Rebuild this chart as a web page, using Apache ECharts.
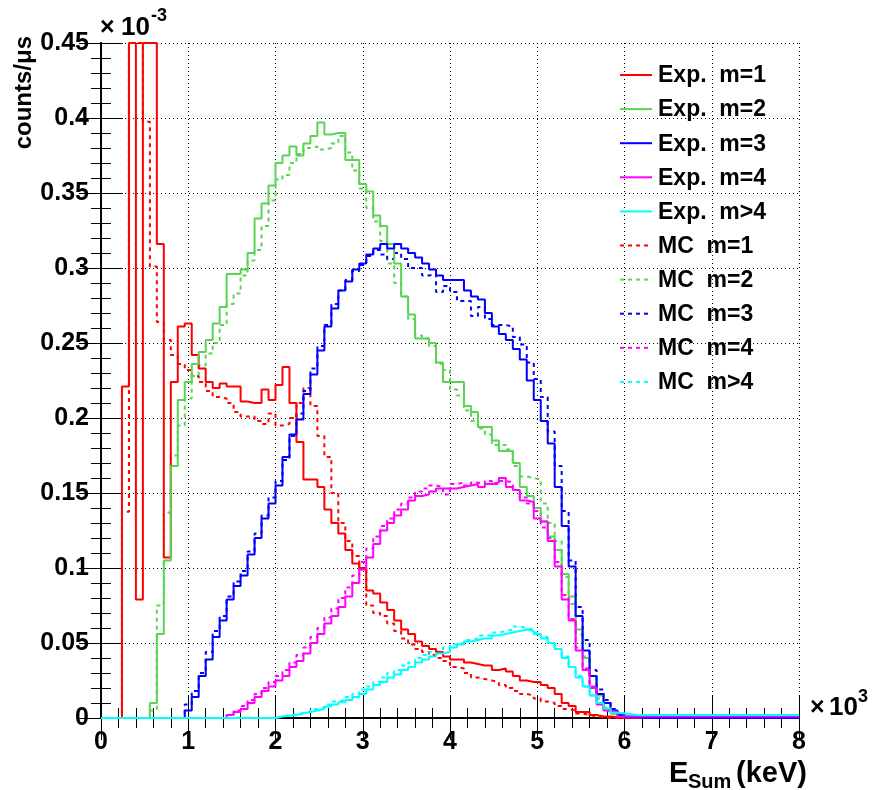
<!DOCTYPE html>
<html>
<head>
<meta charset="utf-8">
<script src="https://cdn.jsdelivr.net/npm/echarts@6/dist/echarts.min.js"></script>
<style>
html,body{margin:0;padding:0;background:#fff;}
#chart{width:888px;height:790px;}
</style>
</head>
<body>
<div id="chart"></div>
<script>
// ---- data (units of 1e-3 counts/us), bins of 80 keV from 0 to 8000 keV ----
var BIN_WIDTH = 0.08; // x10^3 keV
var X_TICKS = [0,1,2,3,4,5,6,7,8];
var Y_TICKS = [0,0.05,0.1,0.15,0.2,0.25,0.3,0.35,0.4,0.45];
var seriesNames = ["Exp.  m=1","Exp.  m=2","Exp.  m=3","Exp.  m=4","Exp.  m>4","MC  m=1","MC  m=2","MC  m=3","MC  m=4","MC  m>4"];
var seriesColors = ["#ff0000","#59d454","#0000ff","#ff00ff","#00ffff","#ff0000","#59d454","#0000ff","#ff00ff","#00ffff"];

// off-scale bins (above the frame) are stored as 0.5
var expM1 = [0,0,0,0.221,0.5,0.079,0.5,0.5,0.316,0.107,
0.224,0.261,0.263,0.242,0.233,0.224,0.220,0.223,0.221,0.221,
0.211,0.210,0.210,0.219,0.212,0.222,0.234,0.210,0.184,0.159,
0.159,0.154,0.139,0.130,0.123,0.112,0.103,0.100,0.085,0.083,
0.077,0.072,0.065,0.059,0.056,0.051,0.048,0.046,0.044,0.041,
0.039,0.039,0.037,0.036,0.035,0.035,0.032,0.033,0.031,0.028,
0.025,0.024,0.024,0.022,0.020,0.016,0.010,0.008,0.004,0.004,
0.002,0.001,0.001,0.0005,0,0,0,0,0,0,
0,0,0,0,0,0,0,0,0,0,
0,0,0,0,0,0,0,0,0,0];

var expM2 = [0,0,0,0,0,0,0,0.010,0.056,0.105,
0.168,0.212,0.224,0.236,0.244,0.252,0.263,0.274,0.296,0.296,
0.299,0.310,0.333,0.343,0.355,0.370,0.375,0.381,0.375,0.383,
0.388,0.397,0.389,0.390,0.390,0.372,0.372,0.356,0.351,0.335,
0.328,0.316,0.303,0.281,0.269,0.253,0.253,0.250,0.237,0.224,
0.224,0.224,0.208,0.204,0.194,0.194,0.185,0.178,0.178,0.170,
0.154,0.148,0.140,0.131,0.121,0.112,0.096,0.081,0.059,0.040,
0.028,0.015,0.006,0.003,0.002,0.0005,0.0005,0.0005,0,0,
0,0,0,0,0,0,0,0,0,0,
0,0,0,0,0,0,0,0,0,0];

var expM3 = [0,0,0,0,0,0,0,0,0,0,
0,0,0.005,0.014,0.028,0.039,0.054,0.065,0.079,0.088,
0.095,0.109,0.120,0.133,0.143,0.155,0.174,0.189,0.199,0.216,
0.229,0.245,0.261,0.273,0.285,0.291,0.299,0.303,0.309,0.313,
0.316,0.313,0.316,0.313,0.310,0.307,0.303,0.299,0.295,0.292,
0.292,0.292,0.285,0.281,0.279,0.270,0.261,0.256,0.252,0.246,
0.239,0.225,0.212,0.198,0.183,0.154,0.128,0.101,0.068,0.045,
0.028,0.016,0.010,0.005,0.002,0.0005,0.0005,0,0,0,
0,0,0,0,0,0,0,0,0,0,
0,0,0,0,0,0,0,0,0,0];

var expM4 = [0,0,0,0,0,0,0,0,0,0,
0,0,0,0,0,0,0,0,0.002,0.004,
0.006,0.010,0.014,0.018,0.021,0.025,0.028,0.034,0.038,0.043,
0.050,0.056,0.063,0.068,0.074,0.081,0.090,0.099,0.107,0.116,
0.125,0.130,0.135,0.139,0.145,0.148,0.149,0.151,0.153,0.153,
0.153,0.154,0.155,0.156,0.154,0.156,0.157,0.160,0.154,0.152,
0.145,0.144,0.133,0.131,0.118,0.101,0.079,0.065,0.045,0.032,
0.020,0.009,0.005,0.004,0.001,0.001,0.001,0.001,0.001,0.001,
0.001,0.001,0.001,0.001,0.001,0.001,0.001,0.001,0.001,0.001,
0.001,0.001,0.001,0.001,0.001,0.001,0.001,0.001,0.001,0.001];

var expM5 = [0,0,0,0,0,0,0,0,0,0,
0,0,0,0,0,0,0,0,0,0,
0,0,0,0,0,0.001,0.0015,0.002,0.003,0.004,
0.005,0.006,0.0076,0.009,0.0105,0.012,0.014,0.016,0.019,0.022,
0.024,0.027,0.029,0.032,0.034,0.037,0.039,0.041,0.043,0.044,
0.047,0.049,0.051,0.052,0.053,0.053,0.055,0.056,0.057,0.058,
0.059,0.058,0.056,0.053,0.050,0.046,0.040,0.034,0.027,0.021,
0.015,0.010,0.0064,0.0035,0.003,0.0025,0.002,0.002,0.002,0.002,
0.002,0.002,0.002,0.002,0.002,0.002,0.002,0.002,0.002,0.002,
0.002,0.002,0.002,0.002,0.002,0.002,0.002,0.002,0.002,0.002];

var mcM1 = [0,0,0,0.1375,0.5,0.5,0.3975,0.301,0.264,0.252,
0.242,0.236,0.232,0.228,0.224,0.218,0.214,0.213,0.210,0.204,
0.201,0.201,0.198,0.196,0.203,0.195,0.196,0.200,0.210,0.220,
0.208,0.188,0.174,0.150,0.130,0.118,0.108,0.099,0.075,0.070,
0.068,0.063,0.058,0.053,0.049,0.046,0.044,0.042,0.040,0.038,
0.034,0.033,0.030,0.027,0.026,0.025,0.024,0.022,0.020,0.018,
0.016,0.015,0.013,0.011,0.010,0.008,0.006,0.005,0.003,0.002,
0.001,0.0005,0,0,0,0,0,0,0,0,
0,0,0,0,0,0,0,0,0,0,
0,0,0,0,0,0,0,0,0,0];

var mcM2 = [0,0,0,0,0,0,0,0.005,0.075,0.137,
0.175,0.195,0.213,0.228,0.235,0.243,0.250,0.262,0.276,0.283,
0.295,0.305,0.312,0.328,0.345,0.359,0.362,0.370,0.376,0.380,
0.381,0.379,0.380,0.383,0.388,0.377,0.365,0.353,0.340,0.331,
0.318,0.303,0.290,0.281,0.266,0.255,0.253,0.248,0.236,0.232,
0.219,0.215,0.205,0.198,0.193,0.189,0.182,0.182,0.179,0.168,
0.161,0.160,0.159,0.143,0.130,0.118,0.094,0.076,0.056,0.041,
0.023,0.013,0.007,0.003,0.002,0.0005,0.0005,0,0,0,
0,0,0,0,0,0,0,0,0,0,
0,0,0,0,0,0,0,0,0,0];

var mcM3 = [0,0,0,0,0,0,0,0,0,0,
0,0,0.009,0.018,0.030,0.044,0.058,0.068,0.081,0.091,
0.098,0.111,0.123,0.135,0.147,0.158,0.172,0.188,0.203,0.218,
0.233,0.248,0.262,0.276,0.285,0.292,0.298,0.302,0.308,0.312,
0.309,0.306,0.310,0.306,0.300,0.300,0.295,0.296,0.284,0.288,
0.284,0.278,0.278,0.268,0.274,0.266,0.262,0.262,0.261,0.254,
0.249,0.237,0.226,0.214,0.191,0.168,0.138,0.105,0.074,0.052,
0.032,0.019,0.012,0.006,0.003,0.0005,0,0,0,0,
0,0,0,0,0,0,0,0,0,0,
0,0,0,0,0,0,0,0,0,0];

var mcM4 = [0,0,0,0,0,0,0,0,0,0,
0,0,0,0,0,0,0,0,0.002,0.005,
0.008,0.012,0.016,0.020,0.024,0.028,0.032,0.037,0.042,0.047,
0.054,0.060,0.067,0.073,0.080,0.087,0.095,0.104,0.113,0.121,
0.128,0.133,0.139,0.143,0.147,0.151,0.153,0.155,0.154,0.149,
0.156,0.157,0.155,0.157,0.156,0.158,0.156,0.158,0.157,0.152,
0.147,0.143,0.138,0.127,0.120,0.104,0.082,0.066,0.047,0.033,
0.021,0.010,0.005,0.003,0.001,0.001,0.001,0.001,0.001,0.001,
0.001,0.001,0.001,0.001,0.001,0.001,0.001,0.001,0.001,0.001,
0.001,0.001,0.001,0.001,0.001,0.001,0.001,0.001,0.001,0.001];

var mcM5 = [0,0,0,0,0,0,0,0,0,0,
0,0,0,0,0,0,0,0,0,0,
0,0,0,0,0,0.001,0.002,0.0025,0.0035,0.0045,
0.006,0.007,0.009,0.011,0.012,0.014,0.016,0.019,0.021,0.024,
0.027,0.030,0.032,0.035,0.037,0.040,0.042,0.044,0.045,0.047,
0.049,0.050,0.052,0.053,0.055,0.055,0.057,0.058,0.059,0.061,
0.060,0.059,0.057,0.054,0.050,0.046,0.041,0.034,0.028,0.021,
0.015,0.010,0.006,0.0035,0.003,0.002,0.0015,0.0015,0.0015,0.0015,
0.0015,0.0015,0.0015,0.0015,0.0015,0.0015,0.0015,0.0015,0.0015,0.0015,
0.0015,0.0015,0.0015,0.0015,0.0015,0.0015,0.0015,0.0015,0.0015,0.0015];

var seriesValues = [expM1,expM2,expM3,expM4,expM5,mcM1,mcM2,mcM3,mcM4,mcM5];

// ---- build ----
var X_MIN = X_TICKS[0], X_MAX = X_TICKS[X_TICKS.length-1];
var Y_MIN = Y_TICKS[0], Y_MAX = Y_TICKS[Y_TICKS.length-1];
var FONT = "'Liberation Sans', Arial, Helvetica, sans-serif";
var MC_DASH = [4,4];

function toSteps(vals){
  var pts = [];
  for (var i=0;i<vals.length;i++){
    pts.push([+(i*BIN_WIDTH).toFixed(4), Math.min(vals[i], Y_MAX)]);
  }
  pts.push([X_MAX, Math.min(vals[vals.length-1], Y_MAX)]);
  return pts;
}

var series = [];
// MC drawn first, experimental on top
var order = [5,6,7,8,9,0,1,2,3,4];
order.forEach(function(k){
  series.push({
    name: seriesNames[k],
    type: 'line',
    step: 'end',
    symbol: 'none',
    clip: false,
    animation: false,
    data: toSteps(seriesValues[k]),
    lineStyle: { color: seriesColors[k], width: 2, type: k>=5 ? MC_DASH : 'solid' },
    itemStyle: { color: seriesColors[k] },
    z: 3
  });
});

// manual legend (line samples + labels)
var graphics = [];
var LEG_X = 620, LEG_Y0 = 75, LEG_DY = 34.1;
seriesNames.forEach(function(name, k){
  var yc = LEG_Y0 + k*LEG_DY;
  graphics.push({ type:'line', shape:{x1:LEG_X, y1:yc, x2:LEG_X+32, y2:yc},
    style:{ stroke:seriesColors[k], lineWidth:2, lineDash: k>=5 ? MC_DASH : null }, z:10 });
  graphics.push({ type:'text', x:LEG_X+38, y:yc+1,
    style:{ text:name, font:'bold 23px '+FONT, fill:'#000', verticalAlign:'middle' }, z:10 });
});
graphics = graphics.concat([
  { type:'text', x:100, y:28, style:{ text:'\u00d7', font:'bold 25px '+FONT, fill:'#000', verticalAlign:'middle' } },
  { type:'text', x:121, y:28, style:{ text:'10', font:'bold 26px '+FONT, fill:'#000', verticalAlign:'middle' } },
  { type:'text', x:151, y:16, style:{ text:'-3', font:'bold 18px '+FONT, fill:'#000', verticalAlign:'middle' } },
  { type:'text', x:810, y:708, style:{ text:'\u00d7', font:'bold 25px '+FONT, fill:'#000', verticalAlign:'middle' } },
  { type:'text', x:829, y:708, style:{ text:'10', font:'bold 26px '+FONT, fill:'#000', verticalAlign:'middle' } },
  { type:'text', x:858, y:697, style:{ text:'3', font:'bold 18px '+FONT, fill:'#000', verticalAlign:'middle' } },
  { type:'text', x:24, y:36, rotation:Math.PI/2,
    style:{ text:'counts/\u03bcs', font:'bold 24px '+FONT, fill:'#000', align:'right', verticalAlign:'middle' } },
  { type:'text', x:669, y:774, style:{ text:'E', font:'bold 29px '+FONT, fill:'#000', verticalAlign:'middle' } },
  { type:'text', x:688, y:782, style:{ text:'Sum', font:'bold 20px '+FONT, fill:'#000', verticalAlign:'middle' } },
  { type:'text', x:807, y:774, style:{ text:'(keV)', font:'bold 29px '+FONT, fill:'#000', align:'right', verticalAlign:'middle' } }
]);

var tickStyle = { show:true, inside:true, length:22, lineStyle:{color:'#000', width:1} };
var minorStyle = { show:true, splitNumber:5, length:10, lineStyle:{color:'#000', width:1} };
var axisLineStyle = { show:true, lineStyle:{color:'#000', width:2} };
var labelStyle = { fontSize:25, fontWeight:'bold', fontFamily:FONT, color:'#000' };

var chart = echarts.init(document.getElementById('chart'), null, {renderer:'canvas'});
chart.setOption({
  backgroundColor:'#fff',
  animation:false,
  grid:{ left:101, top:43, width:698, height:675, containLabel:false },
  xAxis:[
    { type:'value', min:X_MIN, max:X_MAX, interval:1, position:'bottom',
      axisLine:axisLineStyle, axisTick:tickStyle, minorTick:minorStyle,
      axisLabel: Object.assign({margin:12}, labelStyle),
      splitLine:{show:true, lineStyle:{color:'#000', width:1, type:[1,3]}} },
    { type:'value', min:X_MIN, max:X_MAX, interval:1, position:'top',
      axisLine:axisLineStyle, axisTick:tickStyle, minorTick:minorStyle,
      axisLabel:{show:false}, splitLine:{show:false} }
  ],
  yAxis:[
    { type:'value', min:Y_MIN, max:Y_MAX, interval:0.05, position:'left',
      axisLine:axisLineStyle, axisTick:tickStyle, minorTick:minorStyle,
      axisLabel: Object.assign({margin:12, formatter:function(v){ return String(parseFloat(v.toFixed(2))); }}, labelStyle),
      splitLine:{show:true, lineStyle:{color:'#000', width:1, type:[1,3]}} },
    { type:'value', min:Y_MIN, max:Y_MAX, interval:0.05, position:'right',
      axisLine:axisLineStyle, axisTick:tickStyle, minorTick:minorStyle,
      axisLabel:{show:false}, splitLine:{show:false} }
  ],
  graphic: graphics,
  series: series
});
</script>
</body>
</html>
